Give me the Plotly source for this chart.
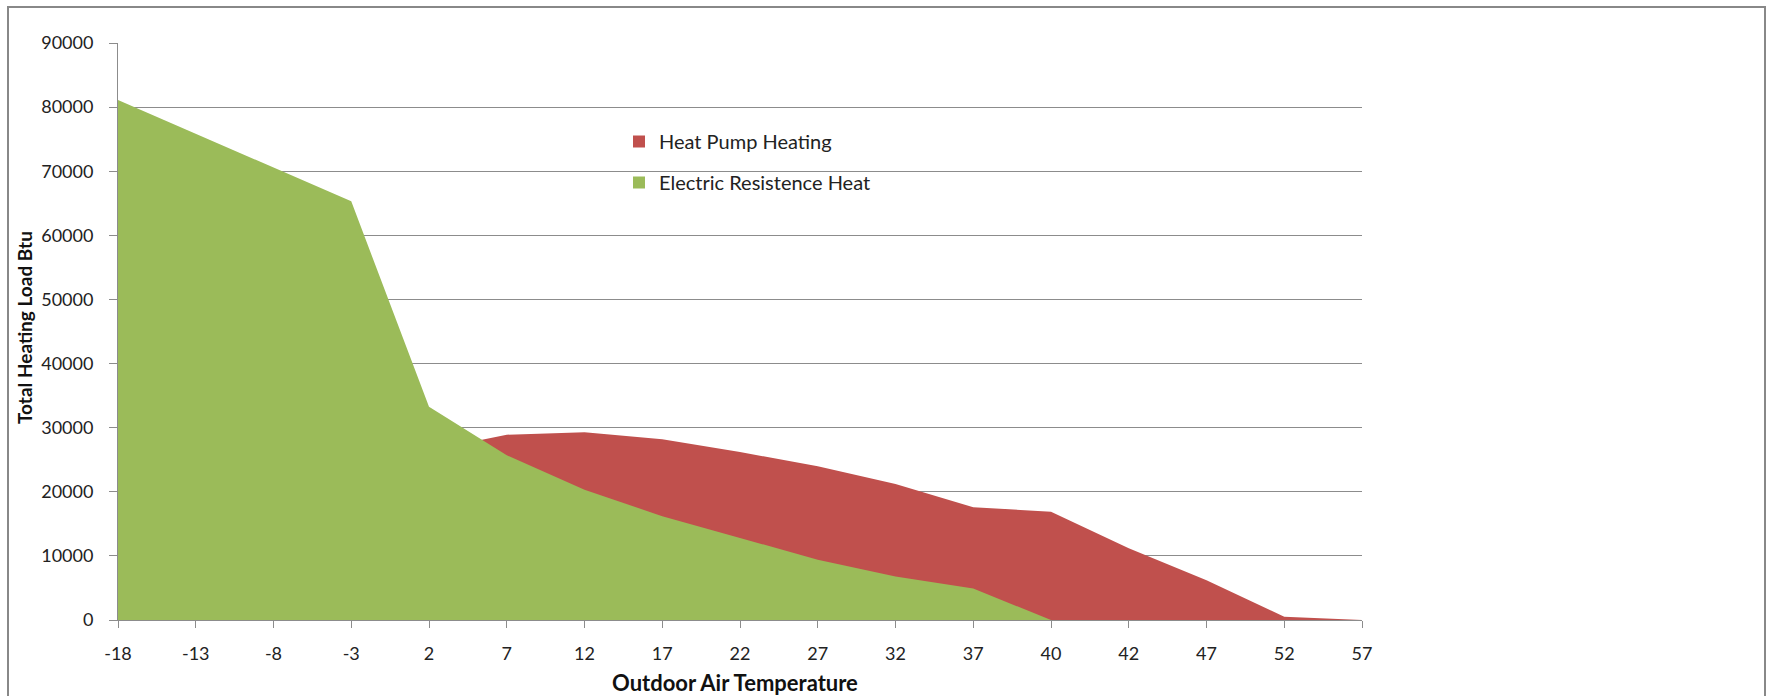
"""Heat pump vs electric resistance heat, area chart in Excel style."""

import plotly.graph_objects as go

temps = ["-18", "-13", "-8", "-3", "2", "7", "12", "17", "22", "27",
         "32", "37", "40", "42", "47", "52", "57"]
heat_pump = [17000, 19500, 22000, 24000, 26500, 28900, 29300, 28200, 26200,
             24000, 21200, 17600, 16900, 11200, 6200, 500, 0]
electric = [81100, 75800, 70500, 65300, 33250, 25700, 20300, 16200, 12800,
            9400, 6800, 4900, 0, 0, 0, 0, 0]

RED = "#C0504D"
GREEN = "#9BBB59"
GRID = "#8C8C8C"
FONT = "Lato"

W, H = 1768, 696
L, R, T, B = 118, 1768 - 1362, 43, 696 - 620
PW, PH = W - L - R, H - T - B


def px_x(x):
    return (x - L) / PW


def px_y(y):
    return (H - B - y) / PH


fig = go.Figure()
fig.add_trace(go.Scatter(
    x=temps, y=heat_pump, mode="lines", fill="tozeroy",
    fillcolor=RED, line=dict(width=0, color=RED), showlegend=False,
))
fig.add_trace(go.Scatter(
    x=temps, y=electric, mode="lines", fill="tozeroy",
    fillcolor=GREEN, line=dict(width=0, color=GREEN), showlegend=False,
))
# legend swatches (squares, like Excel)
for name, col, grp in [("Heat Pump Heating", RED, "a"),
                       ("Electric Resistence Heat", GREEN, "b")]:
    fig.add_trace(go.Scatter(
        x=[None], y=[None], mode="markers", name=name, legendgroup=grp,
        marker=dict(symbol="square", size=12, color=col),
    ))

fig.update_layout(
    width=W, height=H,
    margin=dict(l=L, r=R, t=T, b=B),
    paper_bgcolor="white", plot_bgcolor="white",
    font=dict(family=FONT, size=18, color="#222"),
    legend=dict(
        x=px_x(619), y=px_y(122), xanchor="left", yanchor="top",
        traceorder="grouped", tracegroupgap=12,
        font=dict(size=20, color="#222"), bgcolor="rgba(0,0,0,0)",
        itemwidth=30,
    ),
    xaxis=dict(
        type="category", range=[0, 16], showgrid=False,
        showline=True, linecolor=GRID, linewidth=1,
        ticks="outside", ticklen=7, tickcolor=GRID,
        ticklabelstandoff=10, zeroline=False,
    ),
    yaxis=dict(
        range=[0, 90000], dtick=10000, tickformat="d",
        showgrid=True, gridcolor=GRID, gridwidth=1,
        showline=True, linecolor=GRID, linewidth=1,
        ticks="outside", ticklen=8, tickcolor=GRID,
        ticklabelstandoff=12, zeroline=False,
    ),
    annotations=[
        dict(text="<b>Outdoor Air Temperature</b>", xref="paper", yref="paper",
             x=px_x(735), y=px_y(682), xanchor="center", yanchor="middle",
             showarrow=False, font=dict(size=22, color="#111")),
        dict(text="<b>Total Heating Load Btu</b>", xref="paper", yref="paper",
             x=px_x(24), y=px_y(328), xanchor="center", yanchor="middle",
             showarrow=False, textangle=-90,
             font=dict(size=19, color="#111")),
    ],
    shapes=[
        dict(type="rect", xref="paper", yref="paper",
             x0=px_x(8), x1=px_x(1765), y0=px_y(710), y1=px_y(7),
             line=dict(color="#888888", width=2), layer="above"),
    ],
)

fig.write_html("out.html", config={"displayModeBar": False},
               post_script="document.body.style.margin='0';")
